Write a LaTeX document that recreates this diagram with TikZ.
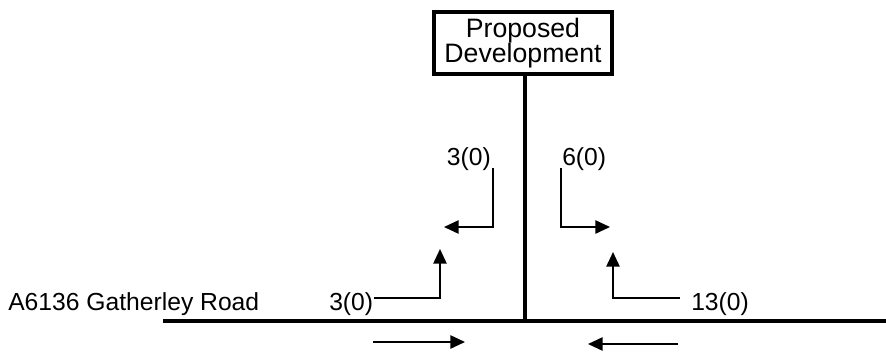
\documentclass[tikz,border=0pt]{standalone}
\usepackage{fontspec}
\setmainfont{Liberation Sans}
\usetikzlibrary{arrows.meta}

\tikzset{
    flow/.style={line width=1.2pt, -{Triangle[length=11pt,width=10pt]}},
    lbl/.style={inner sep=0pt, font=\fontsize{18.5}{21}\selectfont}
}

\begin{document}
\begin{tikzpicture}[x=0.75pt, y=-0.75pt]
    \def\roady{321}
    \def\stemx{525}
\useasboundingbox (0,0) rectangle (886,354);
\node [name=dev, draw, line width=3.2pt, minimum width=133pt, minimum height=47pt, align=center, inner sep=0pt, font=\fontsize{20}{19}\selectfont] at (523,43) {Proposed\\Development};
\coordinate (w) at (163,\roady);
\coordinate (e) at (886,\roady);
\coordinate (j) at (\stemx,\roady);
\draw[line width=3pt] (w) -- (e);
\draw[line width=3pt] (dev.south -| j) -- (j);
\node [lbl, name=road, anchor=base west] at (8,310) {A6136 Gatherley Road};
\node [lbl, name=inl, anchor=base west] at (329,310) {3(0)};
\node [lbl, name=inr, anchor=base west] at (691,310) {13(0)};
\node [lbl, name=outl, anchor=base east] at (491,165) {3(0)};
\node [lbl, name=outr, anchor=base west] at (562,165) {6(0)};
% turning movements
\draw[flow] (374,298) -- (440,298) -- (440,249);
\draw[flow] (493,168) -- (493,227) -- (444,227);
\draw[flow] (561,168) -- (561,227) -- (610,227);
\draw[flow] (680,298) -- (613,298) -- (613,252);
% through movements
\draw[flow] (373,342) -- (465,342);
\draw[flow] (678,344) -- (588,344);
\end{tikzpicture}
\end{document}
